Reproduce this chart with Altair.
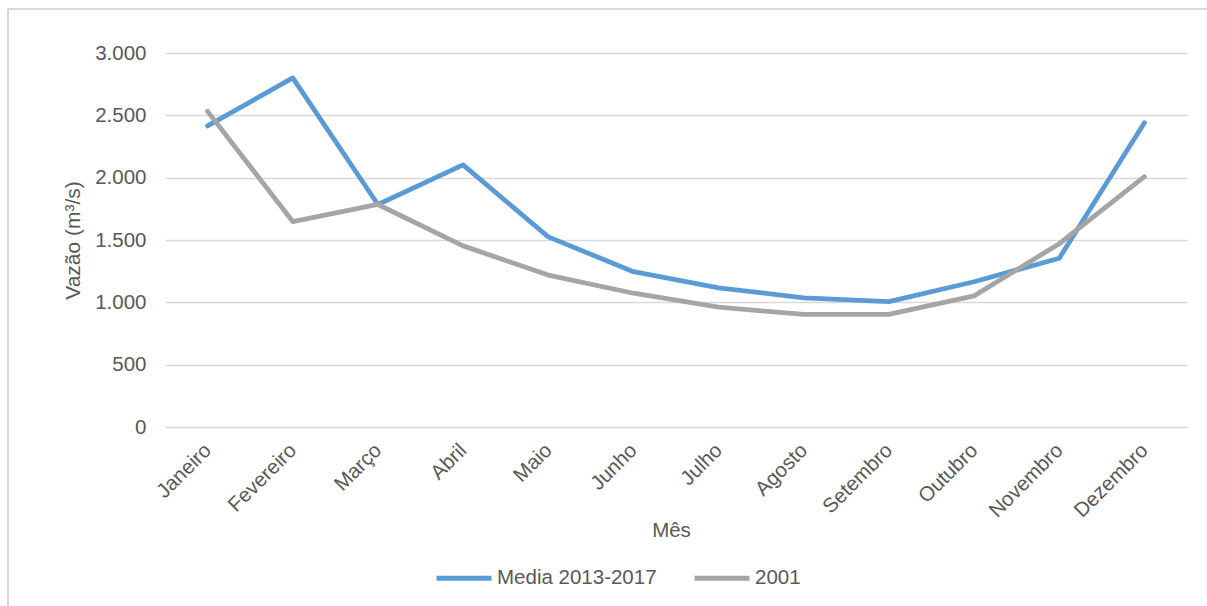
import altair as alt
import pandas as pd

# Monthly discharge (m³/s)
months = ["Janeiro", "Fevereiro", "Março", "Abril", "Maio", "Junho",
          "Julho", "Agosto", "Setembro", "Outubro", "Novembro", "Dezembro"]
media_2013_2017 = [2415, 2800, 1785, 2103, 1525, 1246, 1116, 1036, 1006, 1165, 1354, 2440]
ano_2001 = [2532, 1648, 1785, 1453, 1219, 1073, 961, 903, 903, 1052, 1470, 2008]
series_names = ["Media 2013-2017", "2001"]
series_colors = ["#5B9BD5", "#A5A5A5"]
y_ticks = [0, 500, 1000, 1500, 2000, 2500, 3000]

rows = []
for name, values in zip(series_names, [media_2013_2017, ano_2001]):
    for m, v in zip(months, values):
        rows.append({"Mês": m, "Vazão": v, "Série": name})
df = pd.DataFrame(rows)

FONT = "Liberation Sans"
TXT = "#595959"
W, H = 1022, 374

lines = alt.Chart(df).mark_line(strokeWidth=4.8, strokeJoin="round", strokeCap="round").encode(
    x=alt.X("Mês:N", sort=months, scale=alt.Scale(type="point", padding=0.5),
            axis=alt.Axis(title="Mês", labelAngle=315, labelAlign="right",
                          labelBaseline="middle", labelPadding=20, ticks=False,
                          domain=False, grid=False, labelFontSize=20.5,
                          titleFontSize=20.5, titleFontWeight="normal",
                          titleX=506, titleY=103, titleBaseline="middle",
                          labelColor=TXT, titleColor=TXT, labelFont=FONT, titleFont=FONT)),
    y=alt.Y("Vazão:Q", scale=alt.Scale(domain=[0, 3000], nice=False),
            axis=alt.Axis(title="Vazão (m³/s)", values=y_ticks,
                          labelExpr="replace(format(datum.value, ','), ',', '.')",
                          ticks=False, domain=False, grid=True, gridColor="#D9D9D9",
                          gridWidth=1.3, labelPadding=19, labelFontSize=20.5,
                          titleFontSize=21, titleFontWeight="normal",
                          titleX=-92, titleY=H / 2, titleBaseline="middle",
                          labelColor=TXT, titleColor=TXT, labelFont=FONT, titleFont=FONT)),
    color=alt.Color("Série:N", sort=series_names,
                    scale=alt.Scale(domain=series_names, range=series_colors),
                    legend=alt.Legend(title=None, orient="none", direction="horizontal",
                                      legendX=269, legendY=495,
                                      symbolType="stroke", symbolSize=3025,
                                      symbolStrokeWidth=5, labelOffset=3,
                                      columnPadding=27, labelFontSize=20.5,
                                      labelColor=TXT, labelFont=FONT)),
)

# Outer frame (left and top edges)
frame_left = alt.Chart(df).mark_rule(color="#D9D9D9", strokeWidth=1.5).encode(
    x=alt.value(-157), y=alt.value(-44), y2=alt.value(H + 200))
frame_top = alt.Chart(df).mark_rule(color="#D9D9D9", strokeWidth=1.5).encode(
    x=alt.value(-157), x2=alt.value(W + 60), y=alt.value(-44))

chart = alt.layer(frame_left, frame_top, lines).properties(
    width=W, height=H,
    autosize=alt.AutoSizeParams(type="none"),
    padding={"left": 165, "top": 53, "right": 20, "bottom": 179},
    background="white",
).configure_view(stroke=None)

chart.save("out.html", embed_options={"renderer": "svg", "actions": False})
